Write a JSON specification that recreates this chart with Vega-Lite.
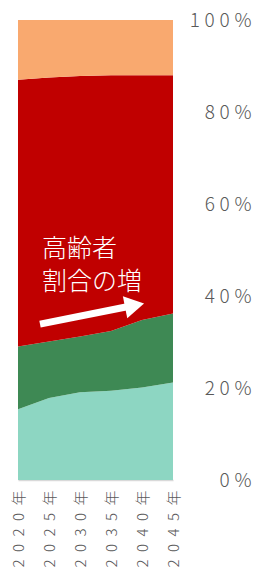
{
  "$schema": "https://vega.github.io/schema/vega-lite/v6.json",
  "width": 155,
  "height": 460,
  "autosize": {"type": "none"},
  "padding": {"left": 18, "top": 20, "right": 83, "bottom": 90},
  "background": "white",
  "config": {
    "view": {"stroke": null},
    "axis": {"labelOverlap": false, "labelSeparation": 0, "labelBound": false, "labelFlush": false, "ticks": false, "grid": false, "title": null, "labelColor": "#595959", "labelFont": "Noto Sans CJK JP", "labelFontWeight": 300},
    "axisX": {"labelAngle": 270, "labelAlign": "right", "labelBaseline": "middle", "labelPadding": 10, "labelFontSize": 15, "domainColor": "#D9D9D9", "domainWidth": 1.5},
    "axisY": {"labelAlign": "right", "labelBaseline": "middle", "labelPadding": 78, "labelFontSize": 19, "domain": false}
  },
  "datasets": {
    "pop": [
      {"year": 2020, "group": "75歳以上", "rank": 1, "value": 15.4},
      {"year": 2020, "group": "65〜74歳", "rank": 2, "value": 13.6},
      {"year": 2020, "group": "15〜64歳", "rank": 3, "value": 58.0},
      {"year": 2020, "group": "0〜14歳", "rank": 4, "value": 13.0},
      {"year": 2025, "group": "75歳以上", "rank": 1, "value": 17.8},
      {"year": 2025, "group": "65〜74歳", "rank": 2, "value": 12.3},
      {"year": 2025, "group": "15〜64歳", "rank": 3, "value": 57.4},
      {"year": 2025, "group": "0〜14歳", "rank": 4, "value": 12.5},
      {"year": 2030, "group": "75歳以上", "rank": 1, "value": 19.1},
      {"year": 2030, "group": "65〜74歳", "rank": 2, "value": 12.1},
      {"year": 2030, "group": "15〜64歳", "rank": 3, "value": 56.6},
      {"year": 2030, "group": "0〜14歳", "rank": 4, "value": 12.2},
      {"year": 2035, "group": "75歳以上", "rank": 1, "value": 19.4},
      {"year": 2035, "group": "65〜74歳", "rank": 2, "value": 13.0},
      {"year": 2035, "group": "15〜64歳", "rank": 3, "value": 55.6},
      {"year": 2035, "group": "0〜14歳", "rank": 4, "value": 12.0},
      {"year": 2040, "group": "75歳以上", "rank": 1, "value": 20.1},
      {"year": 2040, "group": "65〜74歳", "rank": 2, "value": 14.7},
      {"year": 2040, "group": "15〜64歳", "rank": 3, "value": 53.2},
      {"year": 2040, "group": "0〜14歳", "rank": 4, "value": 12.0},
      {"year": 2045, "group": "75歳以上", "rank": 1, "value": 21.2},
      {"year": 2045, "group": "65〜74歳", "rank": 2, "value": 15.0},
      {"year": 2045, "group": "15〜64歳", "rank": 3, "value": 51.8},
      {"year": 2045, "group": "0〜14歳", "rank": 4, "value": 12.0}
    ],
    "note": [
      {"x": 2023.87, "y": 0.502, "t": "高齢者"},
      {"x": 2023.87, "y": 0.430, "t": "割合の増"}
    ],
    "shaft": [
      {"x": 2023.55, "y": 0.339, "x2": 2037.4, "y2": 0.376}
    ],
    "head": [
      {"x": 2038.8, "y": 0.3796}
    ]
  },
  "layer": [
    {
      "data": {"name": "pop"},
      "mark": {"type": "area", "interpolate": "linear"},
      "encoding": {
        "x": {
          "field": "year",
          "type": "quantitative",
          "scale": {"domain": [2020, 2045], "nice": false, "zero": false},
          "axis": {"orient": "bottom", "values": [2020, 2025, 2030, 2035, 2040, 2045], "labelExpr": "join(split(datum.value + '年', ''), '\u2002')"}
        },
        "y": {
          "field": "value",
          "type": "quantitative",
          "stack": "normalize",
          "scale": {"domain": [0, 1], "nice": false},
          "axis": {"orient": "right", "values": [0, 0.2, 0.4, 0.6, 0.8, 1], "format": "%", "labelExpr": "join(split(datum.label, ''), '\u2005')"}
        },
        "color": {
          "field": "group",
          "type": "nominal",
          "scale": {
            "domain": ["75歳以上", "65〜74歳", "15〜64歳", "0〜14歳"],
            "range": ["#8DD6C2", "#3E8954", "#C00000", "#F9A96F"]
          },
          "legend": null
        },
        "order": {"field": "rank", "type": "quantitative"}
      }
    },
    {
      "data": {"name": "note"},
      "mark": {"type": "text", "align": "left", "baseline": "middle", "color": "white", "fontSize": 25, "font": "Noto Sans CJK JP", "fontWeight": 300},
      "encoding": {
        "x": {"field": "x", "type": "quantitative", "axis": {"orient": "bottom", "values": [2020, 2025, 2030, 2035, 2040, 2045], "labelExpr": "join(split(datum.value + '年', ''), '\u2002')"}},
        "y": {"field": "y", "type": "quantitative", "axis": {"orient": "right", "values": [0, 0.2, 0.4, 0.6, 0.8, 1], "format": "%", "labelExpr": "join(split(datum.label, ''), '\u2005')"}},
        "text": {"field": "t"}
      }
    },
    {
      "data": {"name": "shaft"},
      "mark": {"type": "rule", "color": "white", "strokeWidth": 7, "strokeCap": "butt"},
      "encoding": {
        "x": {"field": "x", "type": "quantitative", "axis": {"orient": "bottom", "values": [2020, 2025, 2030, 2035, 2040, 2045], "labelExpr": "join(split(datum.value + '年', ''), '\u2002')"}},
        "y": {"field": "y", "type": "quantitative", "axis": {"orient": "right", "values": [0, 0.2, 0.4, 0.6, 0.8, 1], "format": "%", "labelExpr": "join(split(datum.label, ''), '\u2005')"}},
        "x2": {"field": "x2"},
        "y2": {"field": "y2"}
      }
    },
    {
      "data": {"name": "head"},
      "mark": {"type": "point", "shape": "triangle-right", "filled": true, "color": "white", "opacity": 1, "size": 500, "angle": 348.7},
      "encoding": {
        "x": {"field": "x", "type": "quantitative", "axis": {"orient": "bottom", "values": [2020, 2025, 2030, 2035, 2040, 2045], "labelExpr": "join(split(datum.value + '年', ''), '\u2002')"}},
        "y": {"field": "y", "type": "quantitative", "axis": {"orient": "right", "values": [0, 0.2, 0.4, 0.6, 0.8, 1], "format": "%", "labelExpr": "join(split(datum.label, ''), '\u2005')"}}
      }
    }
  ]
}
